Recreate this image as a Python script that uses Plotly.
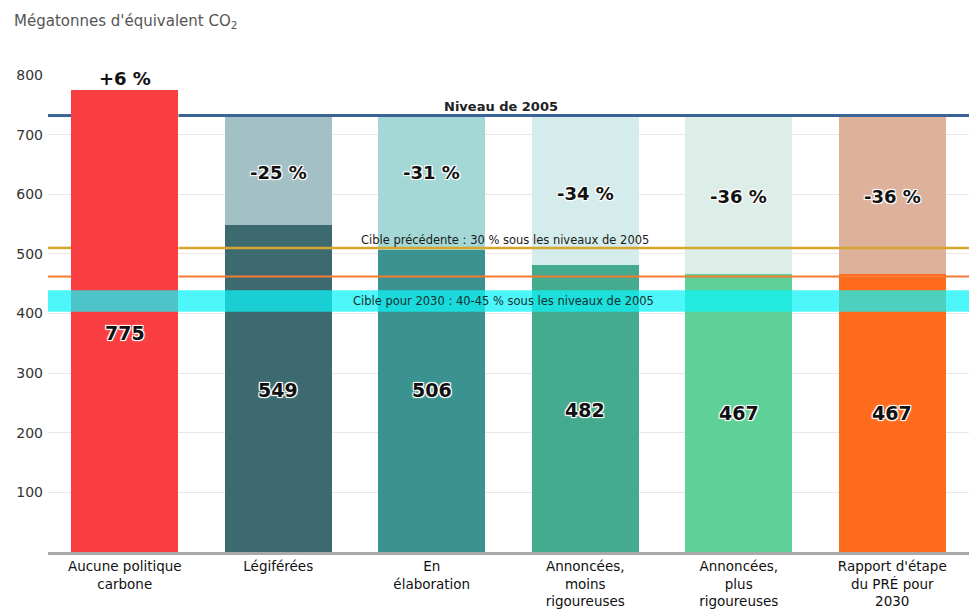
import plotly.graph_objects as go

# Scenario categories and emissions (Mt CO2e)
categories = [
    "Aucune politique<br>carbone",
    "Légiférées",
    "En<br>élaboration",
    "Annoncées,<br>moins<br>rigoureuses",
    "Annoncées,<br>plus<br>rigoureuses",
    "Rapport d'étape<br>du PRÉ pour<br>2030",
]
emissions_2030 = [775, 549, 506, 482, 467, 467]
level_2005 = 732
previous_target = 510          # 30 % below 2005
target_2030_low = 403          # 45 % below 2005
target_2030_high = 439         # 40 % below 2005
progress_line = 462
y_ticks = [100, 200, 300, 400, 500, 600, 700, 800]

# Styling
dark_colors = ["#F93E42", "#3C6A70", "#3A9390", "#45AB8E", "#5DD197", "#FF6B1C"]
light_colors = ["rgba(0,0,0,0)", "#A3C1C5", "#A3D8D6", "#D4ECEC", "#DDEDE8", "#DEB19B"]
value_label_y = [367, 271, 271, 238, 233, 233]
pct_label_y = [794, 637, 637, 601, 596, 596]
FONT = "DejaVu Sans"
BAR_WIDTH = 0.7
HALO = ("white 1px 1px 0px, white -1px -1px 0px, white 1px -1px 0px, "
        "white -1px 1px 0px, white 0px 0px 3px")

x_idx = list(range(len(categories)))
# gap from the reduction scenarios up to the 2005 level
upper = [0 if v > level_2005 else level_2005 - v for v in emissions_2030]

fig = go.Figure()
fig.add_trace(go.Bar(
    x=x_idx, y=emissions_2030, width=BAR_WIDTH,
    marker=dict(color=dark_colors, line=dict(width=0)),
    hoverinfo="skip", showlegend=False,
))
fig.add_trace(go.Bar(
    x=x_idx, y=upper, width=BAR_WIDTH,
    marker=dict(color=light_colors, line=dict(width=0)),
    hoverinfo="skip", showlegend=False,
))

# Reference lines, interrupted around the first (red) bar which sits on top of them
left_edge = x_idx[0] - BAR_WIDTH / 2
right_edge = x_idx[0] + BAR_WIDTH / 2
x_min, x_max = -0.5, len(categories) - 0.5


def ref_line(y, color, width):
    for a, b in [(x_min, left_edge), (right_edge, x_max)]:
        fig.add_shape(type="line", xref="x", yref="y", x0=a, x1=b, y0=y, y1=y,
                      line=dict(color=color, width=width), layer="above")


ref_line(level_2005, "#3A6495", 3)
ref_line(previous_target, "#D6A630", 2.5)
ref_line(progress_line, "#F47B30", 2)

# 2030 target band
fig.add_shape(type="rect", xref="x", yref="y", x0=x_min, x1=x_max,
              y0=target_2030_low, y1=target_2030_high,
              fillcolor="rgb(15,243,247)", opacity=0.74, line=dict(width=0), layer="above")

annotations = []
mid_x = (x_min + x_max) / 2
annotations.append(dict(x=mid_x - 0.05, y=level_2005, xref="x", yref="y",
                        text="<b>Niveau de 2005</b>",
                        showarrow=False, yanchor="bottom", yshift=0,
                        font=dict(family=FONT, size=13, color="#222")))
annotations.append(dict(x=mid_x - 0.02, y=previous_target, xref="x", yref="y",
                        text="Cible précédente : 30 % sous les niveaux de 2005",
                        showarrow=False, yanchor="bottom", yshift=-1,
                        font=dict(family=FONT, size=11.5, color="#1a1a1a")))
annotations.append(dict(x=mid_x - 0.03, y=(target_2030_low + target_2030_high) / 2,
                        xref="x", yref="y",
                        text="Cible pour 2030 : 40-45 % sous les niveaux de 2005",
                        showarrow=False, yanchor="middle",
                        font=dict(family=FONT, size=11.5, color="#15302f")))

for i, v in enumerate(emissions_2030):
    pct = round((v / level_2005 - 1) * 100)
    pct_text = f"+{pct} %" if pct > 0 else f"-{abs(pct)} %"
    annotations.append(dict(x=i, y=value_label_y[i], xref="x", yref="y", text=f"<b>{v}</b>",
                            showarrow=False,
                            font=dict(family=FONT, size=19, color="#111", shadow=HALO)))
    annotations.append(dict(x=i, y=pct_label_y[i], xref="x", yref="y",
                            text=f"<b>{pct_text}</b>",
                            showarrow=False,
                            font=dict(family=FONT, size=18, color="#111",
                                      shadow="none" if pct > 0 else HALO)))

# axis unit title, placed above the plot area
annotations.append(dict(x=-36 / 921, y=1 + (75 - 22) / 477, xref="paper", yref="paper",
                        xanchor="left", yanchor="middle",
                        text="Mégatonnes d'équivalent CO<sub>2</sub>", showarrow=False,
                        font=dict(family=FONT, size=15, color="#555")))

fig.update_layout(
    width=969, height=611,
    margin=dict(l=48, r=0, t=75, b=59),
    barmode="stack", bargap=0.3,
    plot_bgcolor="white", paper_bgcolor="white",
    annotations=annotations,
    font=dict(family=FONT, color="#222"),
    xaxis=dict(
        range=[x_min, x_max], tickmode="array", tickvals=x_idx, ticktext=categories,
        showgrid=False, zeroline=False, showline=True, linecolor="#A8A8A8", linewidth=3,
        ticks="", tickfont=dict(family=FONT, size=13.5, color="#111"),
        ticklabelstandoff=0, automargin=False,
    ),
    yaxis=dict(
        range=[0, 800], tickmode="array", tickvals=y_ticks,
        showgrid=True, gridcolor="#E8E8E8", gridwidth=1, zeroline=False,
        ticks="", tickfont=dict(family=FONT, size=14, color="#333"),
        ticklabelstandoff=4, automargin=False,
    ),
)

fig.write_html("out.html")
